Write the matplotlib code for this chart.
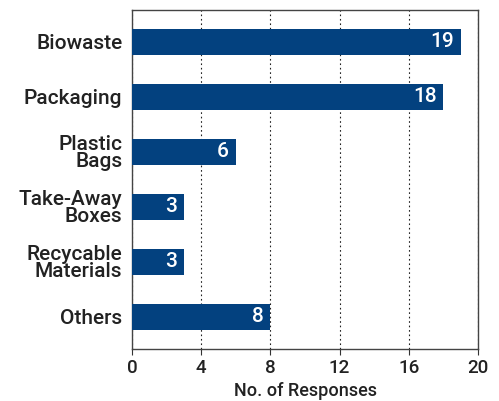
import matplotlib
matplotlib.use("Agg")
import matplotlib.pyplot as plt

categories = ["Biowaste", "Packaging", "Plastic\nBags", "Take-Away\nBoxes",
              "Recycable\nMaterials", "Others"]
responses = [19, 18, 6, 3, 3, 8]
x_ticks = [0, 4, 8, 12, 16, 20]

plt.rcParams["font.family"] = ["Roboto", "DejaVu Sans"]
plt.rcParams["font.weight"] = "medium"

fig = plt.figure(figsize=(4.99, 4.01), dpi=100)
ax = fig.add_axes([0.2645, 0.130, 0.6935, 0.845])

ypos = list(range(len(categories)))
ax.barh(ypos, responses, height=0.47, color="#03417f", zorder=3)

# value labels inside the bar ends
for y, v in zip(ypos, responses):
    ax.text(v - 0.4, y, str(v), ha="right", va="center",
            color="white", fontsize=15, zorder=4)

ax.set_xlim(0, 20)
ax.set_ylim(len(categories) - 0.42, -0.58)
ax.set_xticks(x_ticks)
ax.set_yticks(ypos)
ax.set_yticklabels(categories, fontsize=15, color="#222222", linespacing=0.9)
ax.tick_params(axis="y", length=0, pad=7)
ax.tick_params(axis="x", labelsize=13.5, labelcolor="#222222", length=4,
               width=0.8, color="#333333", pad=3)
ax.xaxis.grid(True, linestyle=(0, (1.5, 2.5)), color="#222222", linewidth=0.8)
ax.set_xlabel("No. of Responses", fontsize=13, fontweight="medium",
              color="#222222", labelpad=4)

for s in ax.spines.values():
    s.set_color("#444444")
    s.set_linewidth(1.0)

fig.savefig("out.png", dpi=100)
